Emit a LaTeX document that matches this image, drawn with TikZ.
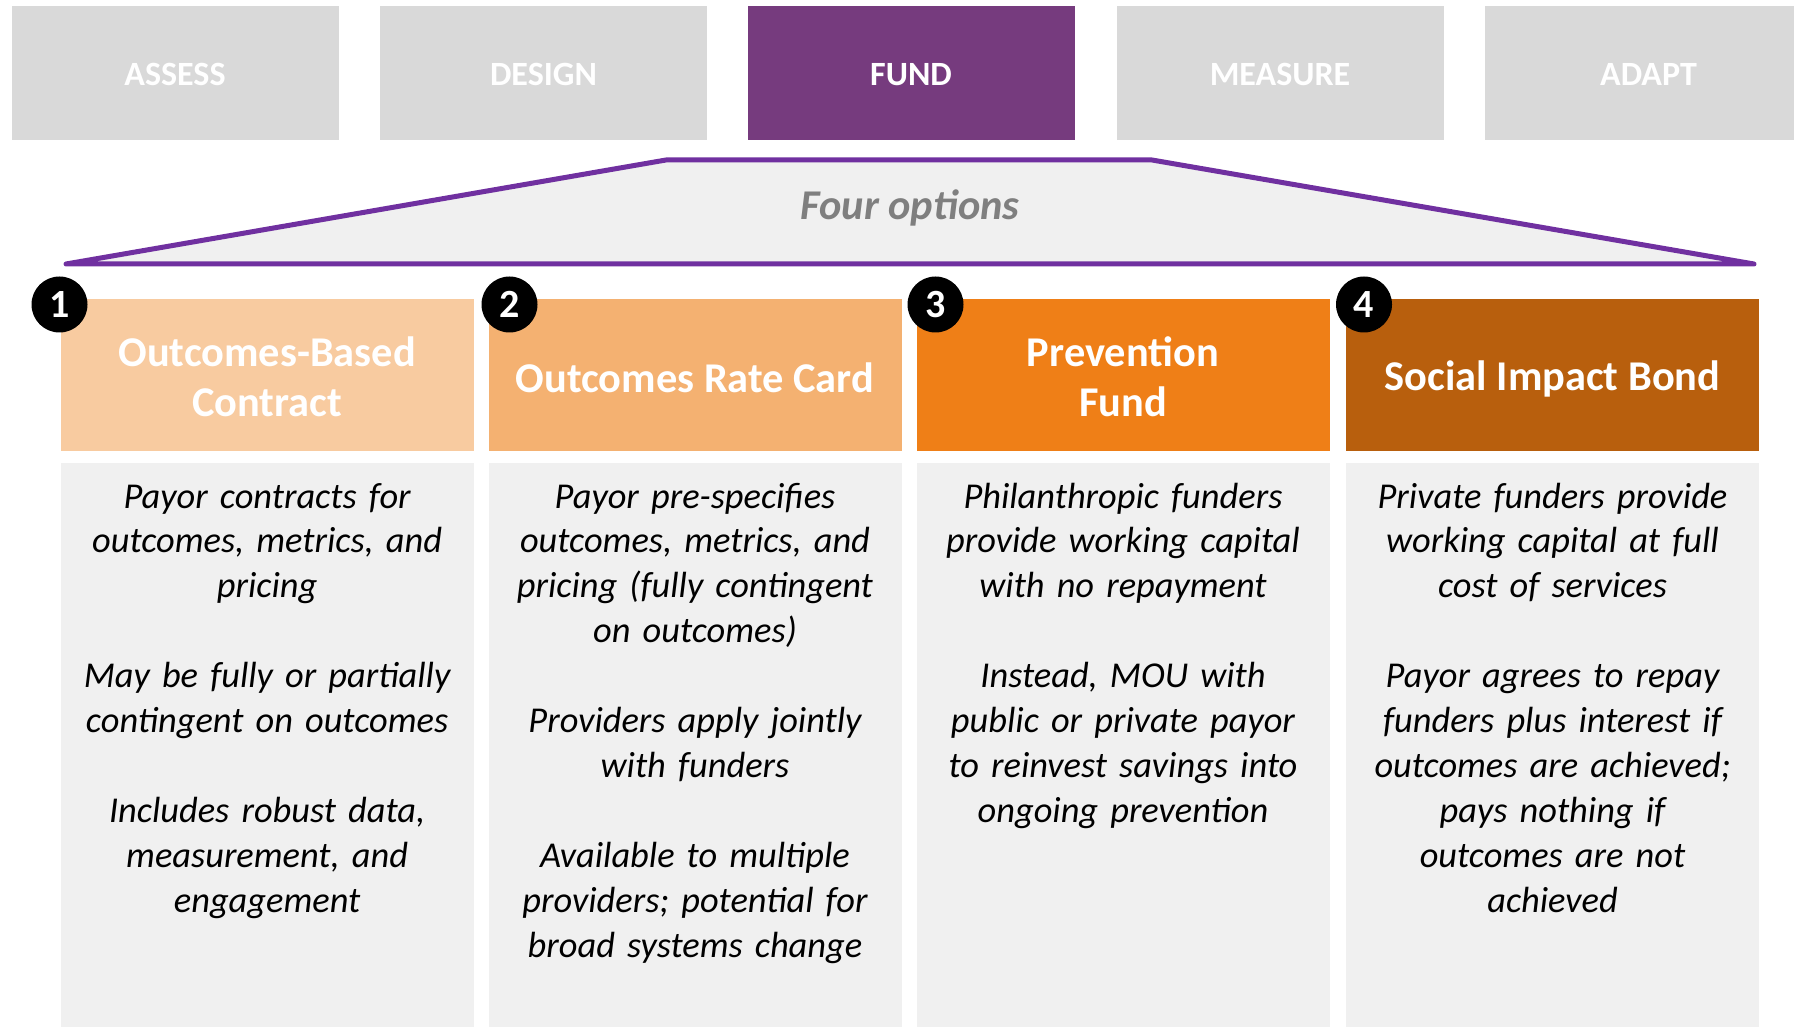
\documentclass[tikz,border=0pt]{standalone}
\usepackage{fontspec}
\setmainfont{Carlito}
\definecolor{stagegray}{HTML}{D9D9D9}
\definecolor{fundpurple}{HTML}{763B7E}
\definecolor{linepurple}{HTML}{7030A0}
\definecolor{panelgray}{HTML}{F0F0F0}
\definecolor{labelgray}{HTML}{7F7F7F}
\definecolor{optA}{HTML}{F8CBA0}
\definecolor{optB}{HTML}{F4B171}
\definecolor{optC}{HTML}{EF7F17}
\definecolor{optD}{HTML}{B85F0D}
\begin{document}
\begin{tikzpicture}[x=0.5pt,y=-0.5pt,
  stage/.style={rectangle, fill=stagegray, minimum width=163.5pt, minimum height=67pt, inner sep=0pt, text height=13.4pt, text depth=0pt, text=white, font=\fontsize{17}{20}\selectfont\bfseries},
  option/.style={rectangle, minimum width=206.5pt, minimum height=76pt, inner sep=0pt},
  optionlabel/.style={align=center, inner sep=0pt, text=white, font=\fontsize{21.2}{25}\selectfont\bfseries},
  detail/.style={rectangle, fill=panelgray, minimum width=206.5pt, minimum height=282pt, inner sep=0pt},
  detailtext/.style={anchor=base, text width=200pt, align=center, inner sep=0pt, font=\fontsize{18.2}{22.45}\selectfont\itshape},
  num/.style={circle, fill=black, minimum size=28pt, inner sep=0pt, text=white, font=\fontsize{20}{24}\selectfont\bfseries},
  trapline/.style={draw=linepurple, fill=panelgray, line width=2.5pt, line join=round}]
\useasboundingbox (0,0) rectangle (1794,1027);
% stages
\node[stage] (assess) at (175,72.6) {ASSESS};
\node[stage] (design) at (543.5,72.6) {DESIGN};
\node[stage, fill=fundpurple] (fund) at (911,72.6) {FUND};
\node[stage] (measure) at (1280,72.6) {MEASURE};
\node[stage] (adapt) at (1648.5,72.6) {ADAPT};
% bracket under FUND
\coordinate (trapbl) at (66,264);
\coordinate (traptl) at (666,160);
\coordinate (traptr) at (1152,160);
\coordinate (trapbr) at (1754,264);
\draw[trapline] (trapbl) -- (traptl) -- (traptr) -- (trapbr) -- cycle;
\node[anchor=base, text=labelgray, font=\fontsize{21.2}{25}\selectfont\bfseries\itshape] (fouropt) at (910,220) {Four options};
% option headers
\node[option, fill=optA] (obc) at (267.1,374.7) {};
\node[option, fill=optB] (orc) at (695,374.7) {};
\node[option, fill=optC] (pf) at (1123,374.7) {};
\node[option, fill=optD] (sib) at (1552.5,374.7) {};
\node[optionlabel] (obclabel) at (267.1,377) {Outcomes-Based\\Contract};
\node[optionlabel] (orclabel) at (695,377.3) {Outcomes Rate Card};
\node[optionlabel] (pflabel) at (1123,377) {Prevention\\Fund};
\node[optionlabel] (siblabel) at (1552.5,379.3) {Social Impact Bond};
% detail panels
\node[detail] (obcbody) at (267.1,745) {};
\node[detail] (orcbody) at (695,745) {};
\node[detail] (pfbody) at (1123,745) {};
\node[detail] (sibbody) at (1552.5,745) {};
\node[detailtext] (obctext) at (267.1,508) {Payor contracts for\\outcomes, metrics, and\\pricing\\[22.45pt]May be fully or partially\\contingent on outcomes\\[22.45pt]Includes robust data,\\measurement, and\\engagement};
\node[detailtext] (orctext) at (695,508) {Payor pre-specifies\\outcomes, metrics, and\\pricing (fully contingent\\on outcomes)\\[22.45pt]Providers apply jointly\\with funders\\[22.45pt]Available to multiple\\providers; potential for\\broad systems change};
\node[detailtext] (pftext) at (1123,508) {Philanthropic funders\\provide working capital\\with no repayment\\[22.45pt]Instead, MOU with\\public or private payor\\to reinvest savings into\\ongoing prevention};
\node[detailtext] (sibtext) at (1552.5,508) {Private funders provide\\working capital at full\\cost of services\\[22.45pt]Payor agrees to repay\\funders plus interest if\\outcomes are achieved;\\pays nothing if\\outcomes are not\\achieved};
% numbers
\node[num] (n1) at (59.5,304.5) {1};
\node[num] (n2) at (509.5,304.5) {2};
\node[num] (n3) at (935.5,304.5) {3};
\node[num] (n4) at (1364,304.5) {4};
\end{tikzpicture}
\end{document}
